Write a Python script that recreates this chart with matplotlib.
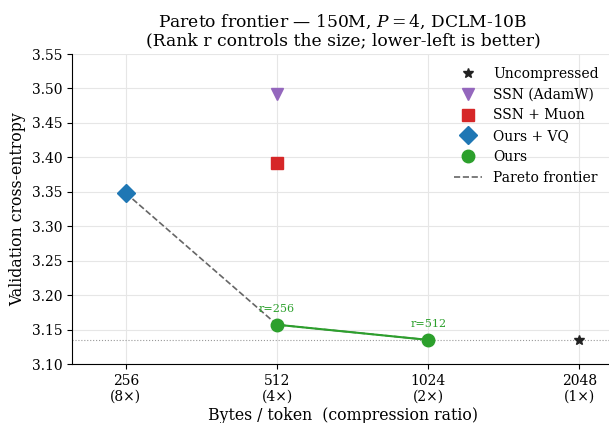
import numpy as np
import matplotlib.pyplot as plt

plt.rcParams['font.family'] = 'DejaVu Serif'
plt.rcParams['mathtext.fontset'] = 'dejavuserif'

# data
bytes_ticks = [256, 512, 1024, 2048]
tick_labels = ['256\n(8×)', '512\n(4×)', '1024\n(2×)', '2048\n(1×)']

uncomp_x, uncomp_y = [2048], [3.135]
ssn_adamw_x, ssn_adamw_y = [512], [3.492]
ssn_muon_x, ssn_muon_y = [512], [3.392]
vq_x, vq_y = [256], [3.348]
ours_x = [512, 1024]
ours_y = [3.157, 3.135]
ours_rank = ['r=256', 'r=512']
pareto_x = [256, 512, 1024]
pareto_y = [3.348, 3.157, 3.135]

fig = plt.figure(figsize=(6.09, 4.23), dpi=100)
# axes runs a little past the right edge, as in the reference
ax = fig.add_axes([72/609, 1-364/423, (614-72)/609, (364-54)/423])

ax.set_xscale('log', base=2)
ax.set_xlim(200, 2400)
ax.set_ylim(3.10, 3.55)
yt = np.arange(3.10, 3.551, 0.05)
ax.set_yticks(yt)
ax.set_yticklabels(['%.2f' % v for v in yt])
ax.set_xticks(bytes_ticks)
ax.set_xticklabels(tick_labels)
ax.minorticks_off()
ax.grid(True, color='#e6e6e6', linewidth=0.8)
ax.set_axisbelow(True)
for s in ['top', 'right']:
    ax.spines[s].set_visible(False)

ax.axhline(uncomp_y[0], color='#999999', linestyle=':', linewidth=0.8)

ax.plot(uncomp_x, uncomp_y, linestyle='none', marker='*', color='#222222', ms=7, label='Uncompressed', zorder=5)
ax.plot(ssn_adamw_x, ssn_adamw_y, linestyle='none', marker='v', color='#9467bd', ms=8, label='SSN (AdamW)', zorder=5)
ax.plot(ssn_muon_x, ssn_muon_y, linestyle='none', marker='s', color='#d62728', ms=9, label='SSN + Muon', zorder=5)
ax.plot(vq_x, vq_y, linestyle='none', marker='D', color='#1f77b4', ms=8.7, label='Ours + VQ', zorder=5)
ax.plot(ours_x, ours_y, '-', color='#2ca02c', linewidth=1.5, zorder=4)
ax.plot(ours_x, ours_y, linestyle='none', marker='o', color='#2ca02c', ms=9, label='Ours', zorder=5)
ax.plot(pareto_x, pareto_y, '--', color='#666666', linewidth=1.2, label='Pareto frontier', zorder=3)

for x, y, r in zip(ours_x, ours_y, ours_rank):
    ax.annotate(r, (x, y), xytext=(0, 8), textcoords='offset points',
                ha='center', va='bottom', fontsize=8, color='#2ca02c')

ax.legend(loc='upper right', frameon=False, fontsize=10, bbox_to_anchor=(0.995, 1.0))
ax.set_xlabel('Bytes / token  (compression ratio)', fontsize=11.3, labelpad=2)
ax.set_ylabel('Validation cross-entropy', fontsize=11.3)
ax.set_title('Pareto frontier — 150M, $P=4$, DCLM-10B\n(Rank r controls the size; lower-left is better)',
             fontsize=12.3, linespacing=1.1)
ax.tick_params(labelsize=10)

fig.savefig('out.png', dpi=100)
